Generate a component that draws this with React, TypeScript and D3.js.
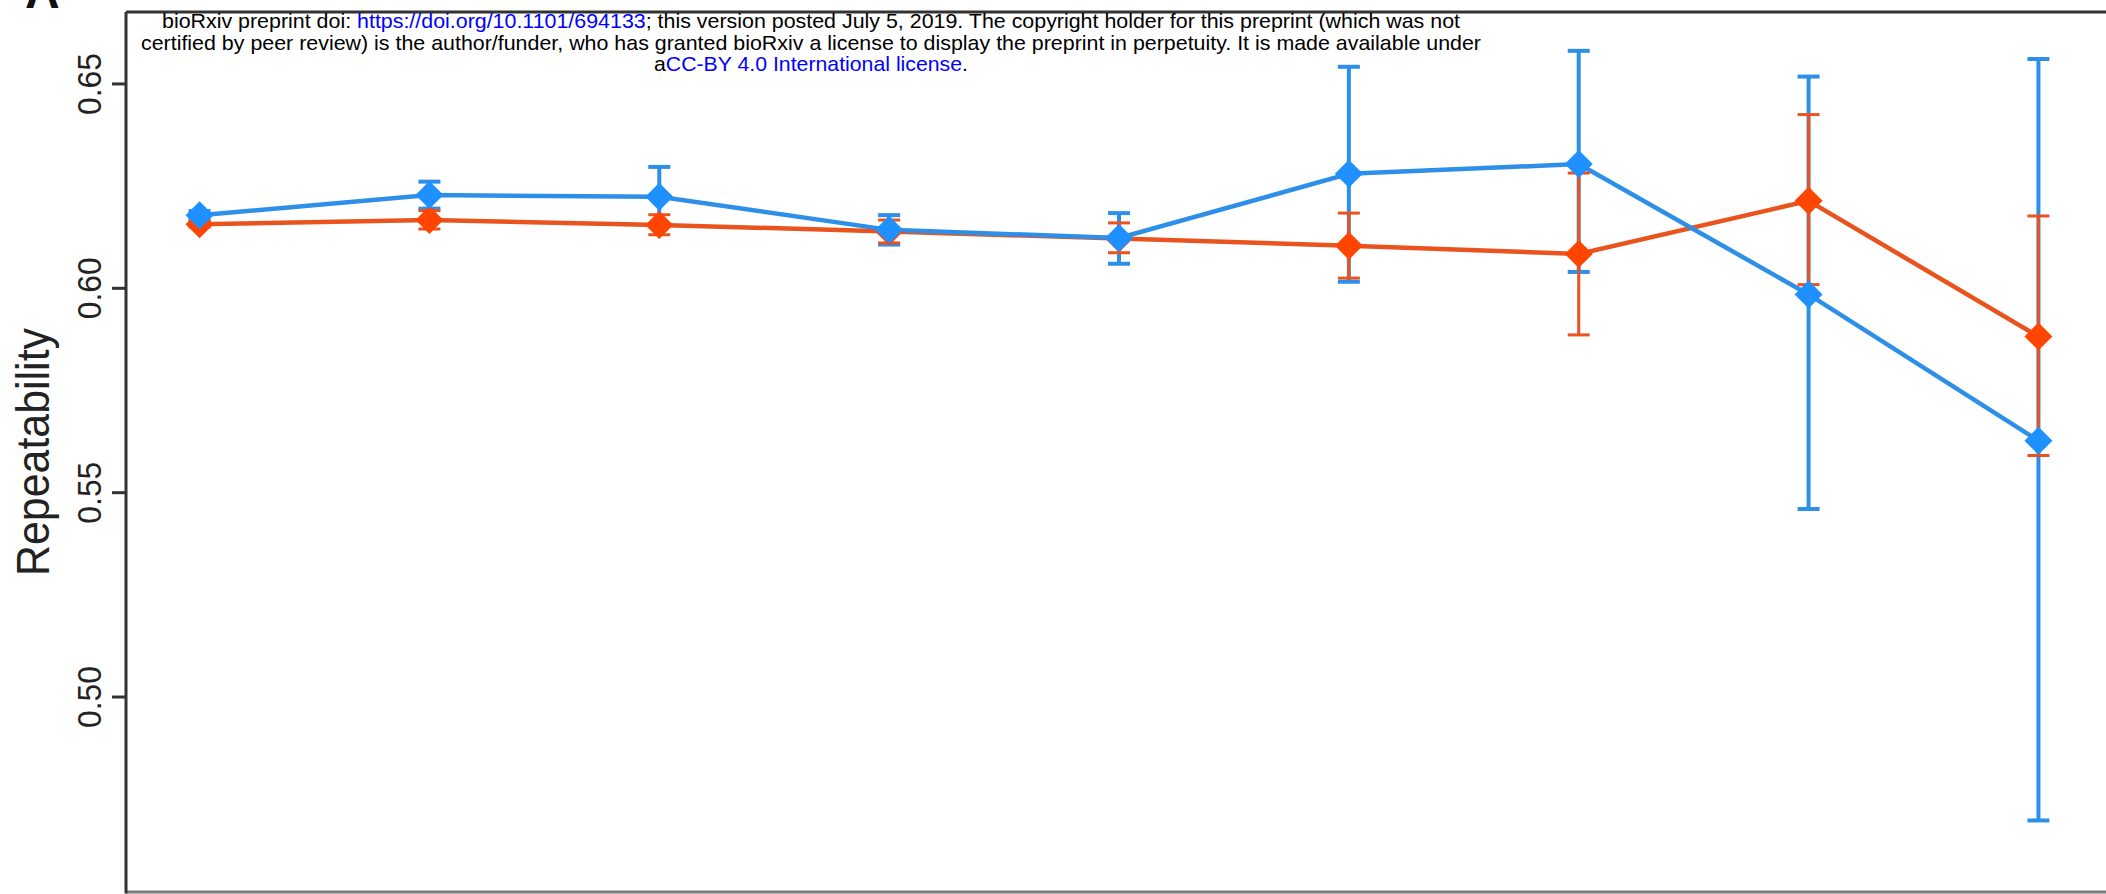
import * as d3 from "d3";
import { useEffect, useRef } from "react";

// nine evaluation points, no x labels shown in the panel
const positions = [1, 2, 3, 4, 5, 6, 7, 8, 9];

// blue series
const blueMean = [0.6179, 0.6228, 0.6224, 0.6143, 0.6123, 0.628, 0.6304, 0.5985, 0.5627];
const blueLo = [0.6169, 0.6195, 0.6155, 0.6107, 0.606, 0.6016, 0.604, 0.546, 0.4698];
const blueHi = [0.6189, 0.6261, 0.6297, 0.6179, 0.6184, 0.6542, 0.6581, 0.6518, 0.6561];

// orange series
const orangeMean = [0.6157, 0.6167, 0.6155, 0.6139, 0.6122, 0.6104, 0.6084, 0.6214, 0.5882];
const orangeLo = [0.615, 0.6145, 0.6131, 0.6111, 0.6087, 0.6025, 0.5886, 0.6009, 0.5591];
const orangeHi = [0.6164, 0.619, 0.618, 0.6167, 0.616, 0.6184, 0.6282, 0.6425, 0.6177];

const yTicks = [0.5, 0.55, 0.6, 0.65];
const yTickLabels = ["0.50", "0.55", "0.60", "0.65"];

const WIDTH = 2106;
const HEIGHT = 894;

const FONT = "'Liberation Sans', Arial, Helvetica, sans-serif";

export default function App() {
  const ref = useRef<SVGSVGElement | null>(null);

  useEffect(() => {
    if (!ref.current) return;
    const svg = d3.select(ref.current);
    svg.selectAll("*").remove();

    const box = { left: 126, top: 12, bottom: 892, right: 2112 };

    const x = d3.scaleLinear().domain([0.68, 9.32]).range([box.left, box.right]);
    const y = d3.scaleLinear().domain([0.4523, 0.6676]).range([box.bottom, box.top]);

    svg.append("rect").attr("width", WIDTH).attr("height", HEIGHT).attr("fill", "#fff");

    // panel letter, mostly cut off at the top
    svg.append("text")
      .attr("x", 25)
      .attr("y", 8)
      .attr("font-family", FONT)
      .attr("font-weight", "bold")
      .attr("font-size", 48)
      .attr("fill", "#111")
      .text("A");

    // frame
    svg.append("line")
      .attr("x1", box.left).attr("x2", WIDTH)
      .attr("y1", box.top).attr("y2", box.top)
      .attr("stroke", "#333").attr("stroke-width", 3);
    svg.append("line")
      .attr("x1", box.left).attr("x2", WIDTH)
      .attr("y1", box.bottom).attr("y2", box.bottom)
      .attr("stroke", "#7a7a7a").attr("stroke-width", 3);
    svg.append("line")
      .attr("x1", box.left).attr("x2", box.left)
      .attr("y1", box.top).attr("y2", box.bottom + 1.5)
      .attr("stroke", "#333").attr("stroke-width", 3);

    // y axis ticks + rotated labels
    const ticks = svg.append("g");
    yTicks.forEach((v, i) => {
      ticks.append("line")
        .attr("x1", box.left - 14).attr("x2", box.left)
        .attr("y1", y(v)).attr("y2", y(v))
        .attr("stroke", "#333").attr("stroke-width", 3);
      ticks.append("text")
        .attr("x", 101)
        .attr("y", y(v))
        .attr("transform", `rotate(-90, 101, ${y(v)})`)
        .attr("text-anchor", "middle")
        .attr("font-family", FONT)
        .attr("font-size", 34)
        .attr("fill", "#222")
        .attr("textLength", 62)
        .attr("lengthAdjust", "spacingAndGlyphs")
        .text(yTickLabels[i]);
    });

    svg.append("text")
      .attr("x", 49)
      .attr("y", 452)
      .attr("transform", "rotate(-90, 49, 452)")
      .attr("text-anchor", "middle")
      .attr("font-family", FONT)
      .attr("font-size", 46)
      .attr("fill", "#222")
      .attr("textLength", 248)
      .attr("lengthAdjust", "spacingAndGlyphs")
      .text("Repeatability");

    const series = [
      { mean: orangeMean, lo: orangeLo, hi: orangeHi, line: "#e8531e", mark: "#ff4500", barW: 3 },
      { mean: blueMean, lo: blueLo, hi: blueHi, line: "#2e8fe8", mark: "#1e90ff", barW: 4 }
    ];

    const line = d3.line<number>()
      .x((_, i) => x(positions[i]))
      .y(d => y(d));

    series.forEach(s => {
      svg.append("path")
        .attr("d", line(s.mean))
        .attr("fill", "none")
        .attr("stroke", s.line)
        .attr("stroke-width", 4.5);
    });

    // error bars: blue first, orange caps on top
    [series[1], series[0]].forEach(s => {
      const g = svg.append("g").attr("stroke", s.line).attr("stroke-width", s.barW);
      positions.forEach((p, i) => {
        const cx = x(p);
        g.append("line").attr("x1", cx).attr("x2", cx).attr("y1", y(s.hi[i])).attr("y2", y(s.lo[i]));
        g.append("line").attr("x1", cx - 11).attr("x2", cx + 11).attr("y1", y(s.hi[i])).attr("y2", y(s.hi[i]));
        g.append("line").attr("x1", cx - 11).attr("x2", cx + 11).attr("y1", y(s.lo[i])).attr("y2", y(s.lo[i]));
      });
    });

    const diamond = d3.symbol().type(d3.symbolSquare).size(392);
    series.forEach(s => {
      svg.append("g")
        .selectAll("path")
        .data(s.mean)
        .enter()
        .append("path")
        .attr("d", diamond())
        .attr("transform", (d, i) => `translate(${x(positions[i])},${y(d)}) rotate(45)`)
        .attr("fill", s.mark);
    });

    // preprint notice stamped over the figure
    const notice = svg.append("g")
      .attr("font-family", FONT)
      .attr("font-size", 21)
      .attr("fill", "#000")
      .attr("text-anchor", "middle");

    const l1 = notice.append("text")
      .attr("x", 811).attr("y", 28)
      .attr("textLength", 1298).attr("lengthAdjust", "spacingAndGlyphs");
    l1.append("tspan").text("bioRxiv preprint doi: ");
    l1.append("tspan").attr("fill", "#0000ff").text("https://doi.org/10.1101/694133");
    l1.append("tspan").text("; this version posted July 5, 2019. The copyright holder for this preprint (which was not");

    notice.append("text")
      .attr("x", 811).attr("y", 49.5)
      .attr("textLength", 1340).attr("lengthAdjust", "spacingAndGlyphs")
      .text("certified by peer review) is the author/funder, who has granted bioRxiv a license to display the preprint in perpetuity. It is made available under");

    const l3 = notice.append("text")
      .attr("x", 811).attr("y", 71)
      .attr("textLength", 314).attr("lengthAdjust", "spacingAndGlyphs");
    l3.append("tspan").text("a");
    l3.append("tspan").attr("fill", "#0000ff").text("CC-BY 4.0 International license");
    l3.append("tspan").text(".");
  }, []);

  return (
    <svg
      ref={ref}
      width={WIDTH}
      height={HEIGHT}
      style={{ position: "absolute", left: 0, top: 0, display: "block" }}
    />
  );
}
